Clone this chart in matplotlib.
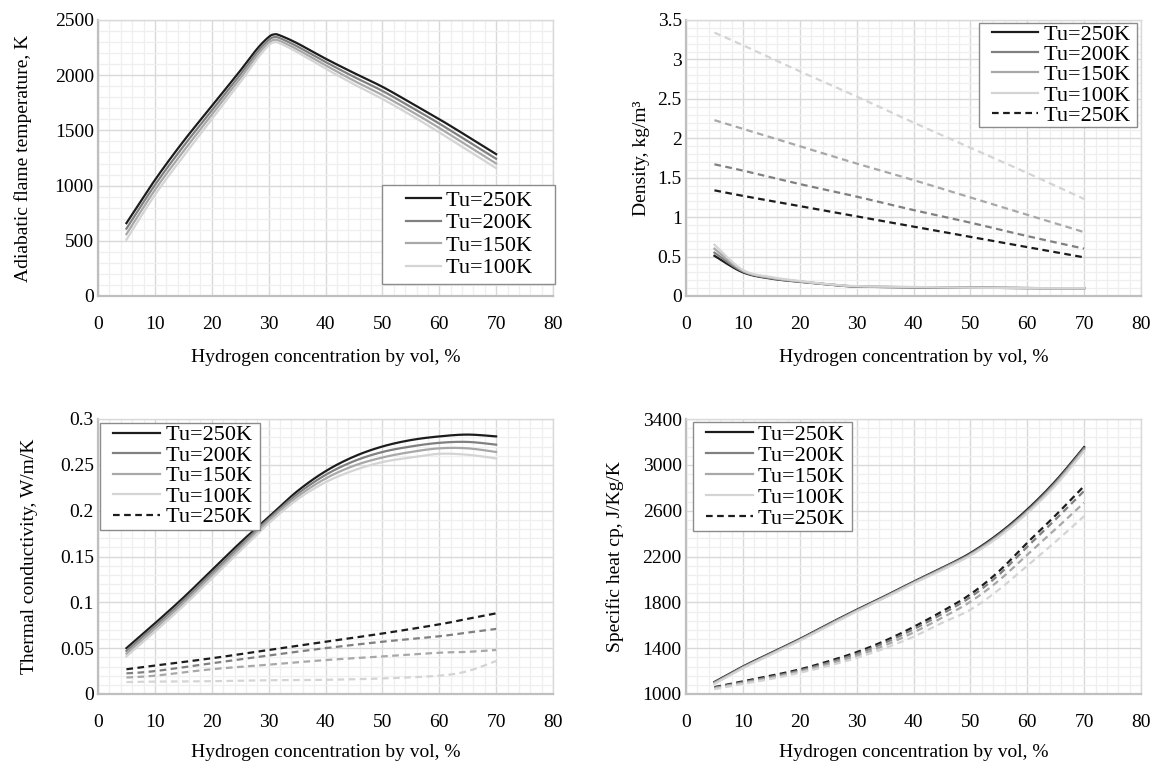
import numpy as np
import matplotlib.pyplot as plt
from matplotlib.ticker import MultipleLocator, FixedLocator
from matplotlib.legend_handler import HandlerLine2D

plt.rcParams['font.family'] = ['Liberation Serif', 'DejaVu Serif']

# hydrogen concentration, % by vol
h2_temp = [5, 10, 15, 20, 25, 28, 30, 31, 32, 35, 40, 45, 50, 55, 60, 65, 70]
h2 = [5, 10, 15, 20, 25, 30, 35, 40, 45, 50, 55, 60, 65, 70]
h2_rho = [5, 10, 15, 20, 25, 30, 40, 50, 60, 70]
h2_rho_d = [5, 10, 20, 30, 40, 50, 60, 70]
h2_k_d = [5, 10, 20, 30, 40, 50, 60, 65, 70]

labels = ['Tu=250K', 'Tu=200K', 'Tu=150K', 'Tu=100K']

# adiabatic flame temperature, K
t_250 = [660, 1050, 1400, 1720, 2040, 2240, 2345, 2370, 2360, 2290, 2150, 2020, 1895, 1750, 1602, 1445, 1285]
t_200 = [610, 1005, 1355, 1680, 2005, 2210, 2318, 2345, 2335, 2262, 2120, 1985, 1858, 1712, 1562, 1402, 1243]
t_150 = [560, 960, 1310, 1640, 1970, 2180, 2292, 2320, 2310, 2235, 2090, 1950, 1820, 1675, 1522, 1360, 1200]
t_100 = [510, 915, 1265, 1600, 1935, 2150, 2270, 2298, 2288, 2210, 2060, 1918, 1785, 1638, 1482, 1320, 1158]

# density, kg/m3 (solid / dashed)
rho_250 = [0.51, 0.30, 0.22, 0.18, 0.145, 0.12, 0.11, 0.105, 0.10, 0.10]
rho_200 = [0.55, 0.31, 0.225, 0.182, 0.147, 0.121, 0.111, 0.105, 0.10, 0.10]
rho_150 = [0.60, 0.32, 0.23, 0.185, 0.148, 0.122, 0.112, 0.105, 0.10, 0.10]
rho_100 = [0.65, 0.33, 0.24, 0.19, 0.15, 0.125, 0.115, 0.105, 0.10, 0.10]
rho_d250 = [1.34, 1.27, 1.14, 1.01, 0.88, 0.75, 0.62, 0.49]
rho_d200 = [1.67, 1.59, 1.42, 1.26, 1.09, 0.93, 0.76, 0.60]
rho_d150 = [2.23, 2.12, 1.90, 1.68, 1.47, 1.25, 1.03, 0.81]
rho_d100 = [3.34, 3.18, 2.85, 2.53, 2.20, 1.88, 1.56, 1.23]

# thermal conductivity, W/m/K
k_250 = [0.050, 0.077, 0.105, 0.135, 0.165, 0.193, 0.221, 0.243, 0.259, 0.270, 0.277, 0.281, 0.283, 0.281]
k_200 = [0.047, 0.074, 0.102, 0.132, 0.162, 0.191, 0.218, 0.239, 0.254, 0.264, 0.270, 0.274, 0.275, 0.272]
k_150 = [0.044, 0.071, 0.099, 0.129, 0.159, 0.189, 0.215, 0.235, 0.249, 0.258, 0.264, 0.268, 0.268, 0.264]
k_100 = [0.041, 0.068, 0.096, 0.126, 0.156, 0.186, 0.212, 0.231, 0.244, 0.253, 0.258, 0.262, 0.261, 0.257]
k_d250 = [0.027, 0.031, 0.039, 0.048, 0.057, 0.066, 0.076, 0.082, 0.088]
k_d200 = [0.0225, 0.025, 0.0335, 0.042, 0.050, 0.057, 0.063, 0.067, 0.071]
k_d150 = [0.018, 0.020, 0.027, 0.032, 0.037, 0.041, 0.045, 0.046, 0.048]
k_d100 = [0.013, 0.0135, 0.014, 0.015, 0.0155, 0.017, 0.020, 0.025, 0.036]

# specific heat cp, J/kg/K
cp_250 = [1105, 1240, 1360, 1480, 1610, 1735, 1855, 1980, 2100, 2230, 2400, 2610, 2860, 3155]
cp_200 = [1100, 1235, 1355, 1475, 1605, 1730, 1850, 1975, 2095, 2222, 2390, 2598, 2848, 3145]
cp_150 = [1095, 1230, 1350, 1470, 1600, 1725, 1845, 1970, 2088, 2215, 2380, 2588, 2835, 3132]
cp_100 = [1088, 1225, 1345, 1465, 1593, 1720, 1840, 1965, 2082, 2208, 2372, 2578, 2822, 3120]
cp_d250 = [1060, 1110, 1160, 1215, 1285, 1365, 1465, 1585, 1720, 1870, 2070, 2320, 2560, 2815]
cp_d200 = [1055, 1102, 1150, 1205, 1272, 1350, 1448, 1565, 1698, 1845, 2040, 2285, 2525, 2772]
cp_d150 = [1050, 1095, 1140, 1195, 1258, 1333, 1425, 1537, 1665, 1805, 1990, 2215, 2440, 2670]
cp_d100 = [1042, 1088, 1132, 1185, 1245, 1315, 1400, 1500, 1620, 1735, 1910, 2120, 2330, 2553]

colors = ['#1c1c1c', '#808080', '#a8a8a8', '#d4d4d4']
FS = 14
LFS = 16
XLABEL = 'Hydrogen concentration by vol, %'

fig = plt.figure(figsize=(11.53, 7.63), dpi=100)
W, H = 1153, 763


def smooth(x, y, n=16):
    # excel-like smoothed line (bezier through the points)
    p = np.column_stack([x, y]).astype(float)
    ext = np.vstack([p[0], p, p[-1]])
    out = [p[:1]]
    t = np.linspace(0, 1, n)[1:, None]
    for i in range(len(p) - 1):
        p0, p3 = ext[i + 1], ext[i + 2]
        p1 = p0 + (ext[i + 2] - ext[i]) / 6
        p2 = p3 - (ext[i + 3] - ext[i + 1]) / 6
        seg = (1 - t) ** 3 * p0 + 3 * (1 - t) ** 2 * t * p1 + 3 * (1 - t) * t ** 2 * p2 + t ** 3 * p3
        out.append(seg)
    s = np.vstack(out)
    return s[:, 0], s[:, 1]


def make_ax(left, top, right, bottom):
    return fig.add_axes([left / W, 1 - bottom / H, (right - left) / W, (bottom - top) / H])


def style_ax(ax, ymin, ymax, ystep, yminor, ylabel, fmt, ylab_x, xlab_y):
    ax.set_xlim(0, 80)
    ax.set_ylim(ymin, ymax)
    ax.xaxis.set_major_locator(MultipleLocator(10))
    ax.xaxis.set_minor_locator(MultipleLocator(2))
    nmaj = int(round((ymax - ymin) / ystep))
    nmin = int(round((ymax - ymin) / yminor))
    ax.yaxis.set_major_locator(FixedLocator([ymin + i * ystep for i in range(nmaj + 1)]))
    ax.yaxis.set_minor_locator(FixedLocator([ymin + i * yminor for i in range(nmin + 1)]))
    ax.yaxis.set_major_formatter(plt.FuncFormatter(lambda v, p: fmt(v)))
    ax.grid(which='major', color='#d9d9d9', lw=1.0, zorder=0)
    ax.grid(which='minor', color='#efefef', lw=0.9, zorder=0)
    ax.set_axisbelow(True)
    ax.tick_params(which='both', length=0, labelsize=FS)
    ax.tick_params(axis='x', pad=14.5)
    ax.tick_params(axis='y', pad=3)
    for s in ['left', 'bottom']:
        ax.spines[s].set_color('#bfbfbf')
        ax.spines[s].set_linewidth(1.6)
    for s in ['top', 'right']:
        ax.spines[s].set_color('#d9d9d9')
        ax.spines[s].set_linewidth(1.0)
    ax.set_xlabel(XLABEL, fontsize=FS)
    ax.set_ylabel(ylabel, fontsize=FS)
    ax.yaxis.set_label_coords(ylab_x, 0.5)
    ax.xaxis.set_label_coords(0.5, xlab_y)


def legend(ax, loc, anchor, spacing, hl, bp, xpad, tail):
    handles, labs = ax.get_legend_handles_labels()
    labs = [l + ' ' * tail for l in labs]
    hmap = {h: HandlerLine2D(xpad=xpad) for h in handles}
    leg = ax.legend(handles, labs, loc=loc, bbox_to_anchor=anchor, fontsize=LFS, frameon=True,
                    fancybox=False, framealpha=1, edgecolor='#8c8c8c', handlelength=hl,
                    handletextpad=0.25, labelspacing=spacing, borderpad=bp, borderaxespad=0,
                    handler_map=hmap)
    leg.get_frame().set_linewidth(1.0)


def draw(ax, x, series, dashed=False):
    for i, (y, c) in enumerate(zip(series, colors)):
        sx, sy = smooth(x, y)
        if dashed:
            ax.plot(sx, sy, color=c, lw=1.6, dashes=(3, 2), label='Tu=250K' if i == 0 else None)
        else:
            ax.plot(sx, sy, color=c, lw=1.6, label=labels[i])


# adiabatic flame temperature
ax1 = make_ax(98, 20, 553, 296)
draw(ax1, h2_temp, [t_250, t_200, t_150, t_100])
style_ax(ax1, 0, 2500, 500, 100, 'Adiabatic flame temperature, K', lambda v: f'{v:.0f}', -0.145, -0.191)
legend(ax1, 'lower right', (1.005, 0.043), 0.085, 2.37, 0.26, 0.8, 3)

# density
ax2 = make_ax(686, 20, 1141, 296)
draw(ax2, h2_rho, [rho_250, rho_200, rho_150, rho_100])
draw(ax2, h2_rho_d, [rho_d250, rho_d200, rho_d150, rho_d100], dashed=True)
style_ax(ax2, 0, 3.5, 0.5, 0.1, 'Density, kg/m³', lambda v: f'{round(v, 2):g}', -0.079, -0.191)
legend(ax2, 'upper right', (1 - 4 / 455, 1 - 2.7 / 276), -0.01, 2.61, 0.06, 0.54, 1)

# thermal conductivity
ax3 = make_ax(98, 419, 553, 694)
draw(ax3, h2, [k_250, k_200, k_150, k_100])
draw(ax3, h2_k_d, [k_d250, k_d200, k_d150, k_d100], dashed=True)
style_ax(ax3, 0, 0.3, 0.05, 0.01, 'Thermal conductivity, W/m/K', lambda v: f'{round(v, 3):g}', -0.132, -0.181)
legend(ax3, 'upper left', (2 / 455, 1 - 3.5 / 275), 0.0, 2.61, 0.1, 0.5, 1)

# specific heat
ax4 = make_ax(686, 419, 1141, 694)
draw(ax4, h2, [cp_250, cp_200, cp_150, cp_100])
draw(ax4, h2, [cp_d250, cp_d200, cp_d150, cp_d100], dashed=True)
style_ax(ax4, 1000, 3400, 400, 80, 'Specific heat cp, J/Kg/K', lambda v: f'{v:.0f}', -0.136, -0.181)
legend(ax4, 'upper left', (6.7 / 455, 1 - 3 / 275), 0.02, 2.61, 0.1, 0.5, 1)

fig.savefig('out.png', dpi=100)
